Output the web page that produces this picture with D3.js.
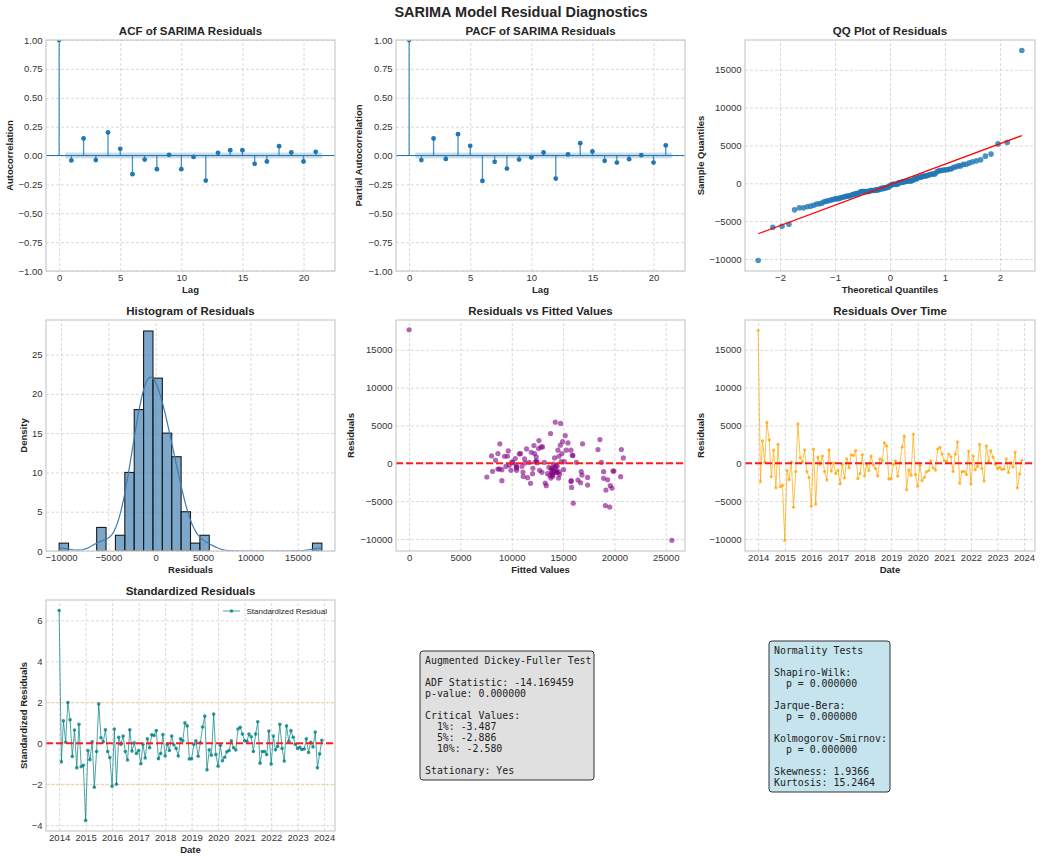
<!DOCTYPE html>
<html>
<head>
<meta charset="utf-8">
<script src="https://cdn.jsdelivr.net/npm/d3@7"></script>
<style>
  body { margin: 0; background: #fff; }
  text { font-family: "Liberation Sans", Arial, sans-serif; fill: #262626; }
  .sup { font-size: 14.5px; font-weight: bold; }
  .ttl { font-size: 11.5px; font-weight: bold; }
  .lbl { font-size: 9.5px; font-weight: bold; }
  .tick-lbl text { font-size: 9.5px; fill: #333; }
  .grid line { stroke: #cfcfcf; stroke-dasharray: 3,2; stroke-width: 0.8; }
  .mono { font-family: "DejaVu Sans Mono", monospace; font-size: 9.9px; white-space: pre; fill: #222; }
</style>
</head>
<body>
<svg id="fig" width="1042" height="860"></svg>
<script>
// ---- data ----
const lags = d3.range(0, 22);
const acfVals = [1.0, -0.043, 0.147, -0.04, 0.20, 0.058, -0.162, -0.035, -0.118, 0.006, -0.118,
  -0.012, -0.217, 0.023, 0.046, 0.046, -0.072, -0.052, 0.081, 0.026, -0.052, 0.032];
const pacfVals = [1.0, -0.04, 0.147, -0.03, 0.185, 0.084, -0.22, -0.055, -0.113, -0.035, -0.017,
  0.026, -0.2, 0.009, 0.107, 0.035, -0.046, -0.061, -0.032, 0.003, -0.061, 0.087];
const confBand = 0.025;

// monthly residuals, Jan 2014 .. Dec 2023
const residuals = [
  17550, -2430, 2970, 150, 5400, 3100, -1750, 1750, -3240, 2510, -3100, -2900,
  -10200, -950, -2160, 190, -5800, -1080, 5210, 730, 190, 1780, -1080, -1890,
  -5670, 1890, -5400, 810, -135, 950, -1080, -2210, 1780, -1030, 55, -1350,
  -950, -2700, -135, -1940, 590, -590, 1130, 1030, 1700, -2030, -1350, 1160,
  -1670, -135, -950, 950, -190, -675, -1670, 590, 325, 2700, 2300, -2080,
  -2030, -135, 325, -1700, 80, 2160, 3590, -3510, -865, -1570, 3860, -1490,
  -3020, -270, -2300, -1840, -1130, -950, 325, -590, -890, 1890, 2110, 1220,
  325, 270, 1220, 865, -1080, 1220, 2840, -2620, -1080, -1080, -1490, 1620,
  -2750, 950, -865, -405, 2510, -675, -2350, 2300, 270, 1670, 810, -135,
  -675, -540, -810, -760, 590, -1220, 135, -490, 1490, -3240, -1400, 405
];
const dates = d3.timeMonth.range(new Date(2014, 0, 1), new Date(2024, 0, 1));

// histogram: 28 equal bins between min and max residual
const histCounts = [1, 0, 0, 0, 3, 0, 2, 10, 18, 28, 22, 15, 12, 5, 1, 2,
  0, 0, 0, 0, 0, 0, 0, 0, 0, 0, 0, 1];

// residuals vs fitted scatter
const fittedX = [0, 25600, 7570, 8030, 8130, 8420, 8650, 8650, 8840, 8780, 9040, 9040, 9300, 9430,
  9590, 9660, 9750, 9920, 10010, 10110, 10340, 10440, 10470, 10470, 10730, 10860, 10990, 11090,
  11120, 11250, 11310, 11440, 11540, 11700, 11830, 11900, 12030, 12060, 12160, 12220, 12290,
  12390, 12480, 12610, 12650, 12710, 12870, 12940, 13000, 13170, 13260, 13360, 13490, 13620,
  13720, 13780, 13820, 13910, 13980, 14080, 14170, 14240, 14300, 14370, 14430, 14500, 14560,
  14600, 14660, 14730, 14760, 14820, 14890, 14950, 15050, 15120, 15210, 15310, 15470, 15770,
  15770, 15830, 15900, 15960, 15990, 16290, 16450, 16710, 16770, 16840, 16900, 17390, 17390,
  18400, 18590, 18730, 18950, 18950, 19120, 19180, 19340, 19540, 19600, 19770, 19860, 19960,
  20610, 20680, 20870, 13900, 14100, 14200, 14400, 14000, 13850, 14300, 10450, 12400, 15800,
  14600, 13950];
const fittedY = [17650, -10180, -1810, 970, -1060, 400, -750, 1280, 2570, -750, -2300, -840, 930, -400,
  930, 1640, -270, -930, 180, 90, 620, -220, -620, -930, 1240, 1280, -400, -1150,
  -1730, 580, 40, 1900, -1900, 130, -2650, 1460, -1370, -660, 2340, 1280, 180,
  840, 90, 1950, 3010, -930, 2170, -1190, 2170, 130, -2610, -2960, -1370, -530,
  -1640, 3940, -1950, -620, -1500, -90, 710, 5440, -930, -1190, -400, 1730, -1950,
  930, -1460, 2390, 5270, 220, 1280, 2880, -840, 220, 3670, 1730, 2700, -2390,
  1730, -3190, 1060, 1020, -5270, 130, -2210, -2570, -1110, -1550, 2570, -1860, -2880,
  1810, 3140, 130, -1110, -1990, -5580, -3540, -2170, -5800, -2960, -3270, -1020, -1020,
  -1770, 1810, 710, -700, -1100, -600, -1200, -1700, -1000, -300, -500, 300, -2300,
  -1100, -1300];

const adfLines = ["Augmented Dickey-Fuller Test", "", "ADF Statistic: -14.169459", "p-value: 0.000000", "",
  "Critical Values:", "  1%: -3.487", "  5%: -2.886", "  10%: -2.580", "", "Stationary: Yes"];
const normLines = ["Normality Tests", "", "Shapiro-Wilk:", "  p = 0.000000", "", "Jarque-Bera:",
  "  p = 0.000000", "", "Kolmogorov-Smirnov:", "  p = 0.000000", "", "Skewness: 1.9366", "Kurtosis: 15.2464"];

// ---- helpers ----
const svg = d3.select("#fig");
const intFmt = d3.format("d");

function normInv(p) {
  const a = [-3.969683028665376e+01, 2.209460984245205e+02, -2.759285104469687e+02, 1.383577518672690e+02, -3.066479806614716e+01, 2.506628277459239e+00];
  const b = [-5.447609879822406e+01, 1.615858368580409e+02, -1.556989798598866e+02, 6.680131188771011e+01, -1.328068155288572e+01];
  const c = [-7.784894002430293e-03, -3.223964580411365e-01, -2.400758277161838e+00, -2.549732539343734e+00, 4.374664141464968e+00, 2.938163982698783e+00];
  const d = [7.784695709041462e-03, 3.224671290700398e-01, 2.445134137142996e+00, 3.754408661907416e+00];
  const pl = 0.02425;
  if (p < pl) {
    const q = Math.sqrt(-2 * Math.log(p));
    return (((((c[0]*q+c[1])*q+c[2])*q+c[3])*q+c[4])*q+c[5]) / ((((d[0]*q+d[1])*q+d[2])*q+d[3])*q+1);
  }
  if (p > 1 - pl) return -normInv(1 - p);
  const q = p - 0.5, r = q * q;
  return (((((a[0]*r+a[1])*r+a[2])*r+a[3])*r+a[4])*r+a[5])*q / (((((b[0]*r+b[1])*r+b[2])*r+b[3])*r+b[4])*r+1);
}

let clipN = 0;
function makePanel(o) {
  const [left, top, w, h] = o.box;
  o.x.range([0, w]); o.y.range([h, 0]);
  const g = svg.append("g").attr("transform", `translate(${left},${top})`);
  const id = "clip" + (clipN++);
  g.append("clipPath").attr("id", id).append("rect").attr("width", w).attr("height", h);

  g.append("g").attr("class", "grid").attr("transform", `translate(0,${h})`)
    .call(d3.axisBottom(o.x).tickValues(o.xTicks).tickSize(-h).tickFormat(""));
  g.append("g").attr("class", "grid")
    .call(d3.axisLeft(o.y).tickValues(o.yTicks).tickSize(-w).tickFormat(""));
  g.selectAll(".grid .domain").remove();

  g.append("g").attr("class", "tick-lbl").attr("transform", `translate(0,${h})`)
    .call(d3.axisBottom(o.x).tickValues(o.xTicks).tickSize(0).tickPadding(3).tickFormat(o.xFmt));
  g.append("g").attr("class", "tick-lbl")
    .call(d3.axisLeft(o.y).tickValues(o.yTicks).tickSize(0).tickPadding(3.5).tickFormat(o.yFmt));
  g.selectAll(".tick-lbl .domain").remove();

  const plot = g.append("g").attr("clip-path", `url(#${id})`);
  g.append("rect").attr("width", w).attr("height", h)
    .attr("fill", "none").attr("stroke", "#cccccc").attr("stroke-width", 1.25);

  g.append("text").attr("class", "ttl").attr("x", w / 2).attr("y", -5)
    .attr("text-anchor", "middle").text(o.title);
  g.append("text").attr("class", "lbl").attr("x", w / 2).attr("y", h + 22)
    .attr("text-anchor", "middle").text(o.xLabel);
  g.append("text").attr("class", "lbl")
    .attr("transform", `translate(${o.yLabelX - left + 3.4},${h / 2}) rotate(-90)`)
    .attr("text-anchor", "middle").text(o.yLabel);
  return { g, plot, x: o.x, y: o.y, w, h };
}

function zeroLine(p, color, width, dash, val = 0, op = 1) {
  p.plot.append("line").attr("x1", 0).attr("x2", p.w).attr("y1", p.y(val)).attr("y2", p.y(val))
    .attr("stroke", color).attr("stroke-width", width).attr("stroke-dasharray", dash).attr("opacity", op);
}

function corrPanel(p, vals) {
  p.plot.append("rect")
    .attr("x", p.x(0.5)).attr("width", p.x(21.5) - p.x(0.5))
    .attr("y", p.y(confBand)).attr("height", p.y(-confBand) - p.y(confBand))
    .attr("fill", "#1f77b4").attr("opacity", 0.25);
  zeroLine(p, "#1f77b4", 1.2, null);
  p.plot.selectAll(".stem").data(lags).enter().append("line")
    .attr("x1", d => p.x(d)).attr("x2", d => p.x(d))
    .attr("y1", p.y(0)).attr("y2", d => p.y(vals[d]))
    .attr("stroke", "#1f77b4").attr("stroke-width", 1.3).attr("opacity", 0.8);
  p.plot.selectAll(".pt").data(lags).enter().append("circle")
    .attr("cx", d => p.x(d)).attr("cy", d => p.y(vals[d])).attr("r", 2.4)
    .attr("fill", "#1f77b4");
}

const n = residuals.length;
const rMin = d3.min(residuals), rMax = d3.max(residuals);
const rMean = d3.mean(residuals), rSd = d3.deviation(residuals);
const pad = (lo, hi) => [lo - (hi - lo) * 0.05, hi + (hi - lo) * 0.05];
const residDomain = pad(rMin, rMax);
const residTicks = [-10000, -5000, 0, 5000, 10000, 15000];
const corrTicksY = d3.range(-1, 1.01, 0.25);
const redDash = "7,3";

// ---- title ----
svg.append("text").attr("class", "sup").attr("x", 521).attr("y", 17)
  .attr("text-anchor", "middle").text("SARIMA Model Residual Diagnostics");

// ---- ACF ----
const acfP = makePanel({
  box: [46, 40, 289, 231], x: d3.scaleLinear().domain([-1.075, 22.575]), y: d3.scaleLinear().domain([-1, 1]),
  xTicks: [0, 5, 10, 15, 20], yTicks: corrTicksY, xFmt: intFmt, yFmt: d3.format(".2f"),
  title: "ACF of SARIMA Residuals", xLabel: "Lag", yLabel: "Autocorrelation", yLabelX: 10
});
corrPanel(acfP, acfVals);

// ---- PACF ----
const pacfP = makePanel({
  box: [396, 40, 289, 231], x: d3.scaleLinear().domain([-1.075, 22.575]), y: d3.scaleLinear().domain([-1, 1]),
  xTicks: [0, 5, 10, 15, 20], yTicks: corrTicksY, xFmt: intFmt, yFmt: d3.format(".2f"),
  title: "PACF of SARIMA Residuals", xLabel: "Lag", yLabel: "Partial Autocorrelation", yLabelX: 359
});
corrPanel(pacfP, pacfVals);

// ---- QQ ----
const sorted = residuals.slice().sort(d3.ascending);
const theo = sorted.map((d, i) => normInv((i + 1) / (n + 1)));
const qqP = makePanel({
  box: [745, 40, 290, 231], x: d3.scaleLinear().domain(pad(theo[0], theo[n - 1])), y: d3.scaleLinear().domain(residDomain),
  xTicks: [-2, -1, 0, 1, 2], yTicks: residTicks, xFmt: intFmt, yFmt: intFmt,
  title: "QQ Plot of Residuals", xLabel: "Theoretical Quantiles", yLabel: "Sample Quantiles", yLabelX: 701
});
qqP.plot.selectAll("circle").data(sorted).enter().append("circle")
  .attr("cx", (d, i) => qqP.x(theo[i])).attr("cy", d => qqP.y(d)).attr("r", 2.8)
  .attr("fill", "#1f77b4").attr("opacity", 0.8);
qqP.plot.append("line")
  .attr("x1", qqP.x(theo[0])).attr("y1", qqP.y(rMean + rSd * theo[0]))
  .attr("x2", qqP.x(theo[n - 1])).attr("y2", qqP.y(rMean + rSd * theo[n - 1]))
  .attr("stroke", "red").attr("stroke-width", 1.2);

// ---- Histogram ----
const binW = (rMax - rMin) / histCounts.length;
const histP = makePanel({
  box: [46, 320, 289, 231], x: d3.scaleLinear().domain(residDomain), y: d3.scaleLinear().domain([0, 28 * 1.05]),
  xTicks: residTicks, yTicks: [0, 5, 10, 15, 20, 25], xFmt: intFmt, yFmt: intFmt,
  title: "Histogram of Residuals", xLabel: "Residuals", yLabel: "Density", yLabelX: 24
});
const bars = histCounts.map((c, i) => ({ c, x0: rMin + i * binW })).filter(d => d.c > 0);
histP.plot.selectAll("rect.bar").data(bars).enter().append("rect")
  .attr("x", d => histP.x(d.x0)).attr("width", histP.x(rMin + binW) - histP.x(rMin))
  .attr("y", d => histP.y(d.c)).attr("height", d => histP.y(0) - histP.y(d.c))
  .attr("fill", "rgba(70,130,180,0.7)").attr("stroke", "#1a1a1a").attr("stroke-width", 1.1);
const bw = rSd * Math.pow(n, -0.2);
const kdeX = d3.range(0, 201).map(i => rMin + (rMax - rMin) * i / 200);
const kde = kdeX.map(x => [x, d3.sum(residuals, r => Math.exp(-0.5 * ((x - r) / bw) ** 2)) / (n * bw * Math.sqrt(2 * Math.PI)) * n * binW]);
histP.plot.append("path").datum(kde)
  .attr("d", d3.line().x(d => histP.x(d[0])).y(d => histP.y(d[1])))
  .attr("fill", "none").attr("stroke", "#3f7cb0").attr("stroke-width", 1.2);

// ---- Residuals vs fitted ----
const fitP = makePanel({
  box: [396, 320, 289, 231], x: d3.scaleLinear().domain(pad(d3.min(fittedX), d3.max(fittedX))), y: d3.scaleLinear().domain(residDomain),
  xTicks: [0, 5000, 10000, 15000, 20000, 25000], yTicks: residTicks, xFmt: intFmt, yFmt: intFmt,
  title: "Residuals vs Fitted Values", xLabel: "Fitted Values", yLabel: "Residuals", yLabelX: 351
});
fitP.plot.selectAll("circle").data(fittedX).enter().append("circle")
  .attr("cx", d => fitP.x(d)).attr("cy", (d, i) => fitP.y(fittedY[i])).attr("r", 2.6)
  .attr("fill", "purple").attr("opacity", 0.6);
zeroLine(fitP, "#ff1a1a", 1.9, redDash);

// ---- Residuals over time ----
const tPad = (dates[n - 1] - dates[0]) * 0.05;
const yearTicks = d3.timeYear.range(new Date(2014, 0, 1), new Date(2024, 1, 1));
const timeP = makePanel({
  box: [745, 320, 290, 231], x: d3.scaleTime().domain([new Date(+dates[0] - tPad), new Date(+dates[n - 1] + tPad)]),
  y: d3.scaleLinear().domain(residDomain),
  xTicks: yearTicks, yTicks: residTicks, xFmt: d3.timeFormat("%Y"), yFmt: intFmt,
  title: "Residuals Over Time", xLabel: "Date", yLabel: "Residuals", yLabelX: 701
});
timeP.plot.append("path").datum(residuals)
  .attr("d", d3.line().x((d, i) => timeP.x(dates[i])).y(d => timeP.y(d)))
  .attr("fill", "none").attr("stroke", "orange").attr("stroke-width", 1).attr("opacity", 0.7);
timeP.plot.selectAll("circle").data(residuals).enter().append("circle")
  .attr("cx", (d, i) => timeP.x(dates[i])).attr("cy", d => timeP.y(d)).attr("r", 1.6)
  .attr("fill", "orange").attr("opacity", 0.75);
zeroLine(timeP, "#ff1a1a", 1.9, redDash);

// ---- Standardized residuals ----
const stdRes = residuals.map(r => r / rSd);
const stdP = makePanel({
  box: [46, 600, 289, 231], x: d3.scaleTime().domain([new Date(+dates[0] - tPad), new Date(+dates[n - 1] + tPad)]),
  y: d3.scaleLinear().domain(pad(d3.min(stdRes), d3.max(stdRes))),
  xTicks: yearTicks, yTicks: [-4, -2, 0, 2, 4, 6], xFmt: d3.timeFormat("%Y"), yFmt: intFmt,
  title: "Standardized Residuals", xLabel: "Date", yLabel: "Standardized Residuals", yLabelX: 24
});
zeroLine(stdP, "orange", 1, "1,1.6", 2, 0.6);
zeroLine(stdP, "orange", 1, "1,1.6", -2, 0.6);
stdP.plot.append("path").datum(stdRes)
  .attr("d", d3.line().x((d, i) => stdP.x(dates[i])).y(d => stdP.y(d)))
  .attr("fill", "none").attr("stroke", "teal").attr("stroke-width", 1).attr("opacity", 0.7);
stdP.plot.selectAll("circle").data(stdRes).enter().append("circle")
  .attr("cx", (d, i) => stdP.x(dates[i])).attr("cy", d => stdP.y(d)).attr("r", 1.8)
  .attr("fill", "teal").attr("opacity", 0.8);
zeroLine(stdP, "#ff1a1a", 1.9, redDash);
const lg = stdP.g.append("g").attr("transform", "translate(177,11)");
lg.append("line").attr("x1", 0).attr("x2", 17).attr("stroke", "teal").attr("stroke-width", 1).attr("opacity", 0.7);
lg.append("circle").attr("cx", 8.5).attr("r", 1.8).attr("fill", "teal").attr("opacity", 0.8);
lg.append("text").attr("x", 23.5).attr("y", 3).style("font-size", "8px").text("Standardized Residual");

// ---- text boxes ----
function textBox(x, y, w, h, fill, lines, first) {
  svg.append("rect").attr("x", x).attr("y", y).attr("width", w).attr("height", h).attr("rx", 3)
    .attr("fill", fill).attr("stroke", "#333").attr("stroke-width", 1);
  const t = svg.append("text").attr("class", "mono");
  lines.forEach((s, i) => {
    t.append("tspan").attr("x", x + 5).attr("y", y + first + i * 11).text(s);
  });
}
textBox(420, 651, 174, 129, "#e0e0e0", adfLines, 13);
textBox(769, 641, 121, 151, "#c5e4ee", normLines, 12.5);
</script>
</body>
</html>
